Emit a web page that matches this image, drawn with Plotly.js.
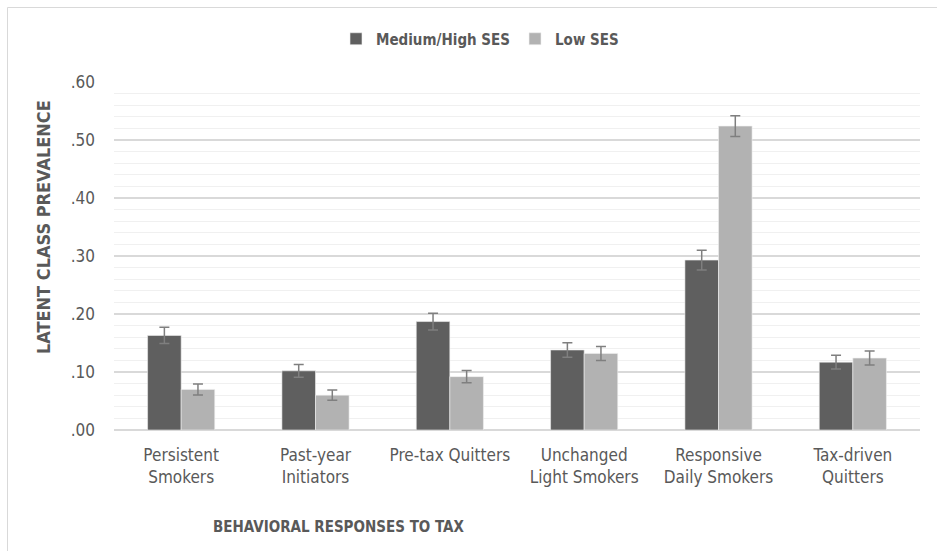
<!DOCTYPE html>
<html>
<head>
<meta charset="utf-8">
<script src="https://cdn.plot.ly/plotly-3.0.1.min.js"></script>
<style>html,body{margin:0;padding:0;background:#fff;}</style>
</head>
<body>
<div id="chart" style="width:937px;height:551px;"></div>
<script>
const categories = ["Persistent<br>Smokers", "Past-year<br>Initiators", "Pre-tax Quitters", "Unchanged<br>Light Smokers", "Responsive<br>Daily Smokers", "Tax-driven<br>Quitters"];
const medHighValues = [0.163, 0.102, 0.187, 0.138, 0.293, 0.117];
const medHighErrors = [0.014, 0.011, 0.0145, 0.0125, 0.017, 0.012];
const lowValues = [0.070, 0.060, 0.092, 0.132, 0.524, 0.124];
const lowErrors = [0.0095, 0.0088, 0.0105, 0.012, 0.018, 0.012];
const yTickVals = [0, 0.1, 0.2, 0.3, 0.4, 0.5, 0.6];
const yTickText = [".00", ".10", ".20", ".30", ".40", ".50", ".60"];

const FONT = "'DejaVu Sans Condensed', 'Open Sans', sans-serif";
const errStyle = {type: 'data', color: '#7f7f7f', thickness: 1.5, width: 5};

const traces = [
  {type: 'bar', name: 'Medium/High SES', x: categories, y: medHighValues,
   marker: {color: '#5f5f5f', line: {color: '#f0f0f0', width: 0.6}},
   error_y: Object.assign({array: medHighErrors}, errStyle)},
  {type: 'bar', name: 'Low SES', x: categories, y: lowValues,
   marker: {color: '#b2b2b2', line: {color: '#f0f0f0', width: 0.6}},
   error_y: Object.assign({array: lowErrors}, errStyle)}
];

const layout = {
  width: 937, height: 551,
  margin: {l: 114, r: 17, t: 82, b: 121, autoexpand: false},
  paper_bgcolor: '#ffffff', plot_bgcolor: '#ffffff',
  font: {family: FONT, color: '#595959', size: 16},
  barmode: 'group', bargap: 0.5, bargroupgap: 0,
  showlegend: true,
  legend: {orientation: 'h', x: (480 - 114) / 806, xanchor: 'center',
           y: (430 - 39) / 348, yanchor: 'middle',
           font: {family: FONT, size: 15, color: '#595959', weight: 'bold'},
           traceorder: 'normal'},
  xaxis: {type: 'category', showgrid: false, zeroline: false, showline: false,
          ticks: '', ticklabelstandoff: 13,
          tickfont: {family: FONT, size: 17, color: '#595959'}},
  yaxis: {range: [0, 0.6], tickvals: yTickVals, ticktext: yTickText,
          showgrid: true, gridcolor: '#d9d9d9', gridwidth: 1.4,
          zeroline: true, zerolinecolor: '#d9d9d9', zerolinewidth: 1.5,
          showline: false, ticks: '', ticklabelstandoff: 18,
          tickfont: {family: FONT, size: 17, color: '#595959'},
          minor: {dtick: 0.02, showgrid: true, gridcolor: '#f0f0f0', gridwidth: 1.3}},
  annotations: [
    {text: '<b>LATENT CLASS PREVALENCE</b>', xref: 'paper', yref: 'paper',
     x: (43 - 114) / 806, y: (430 - 227) / 348, textangle: -90, showarrow: false,
     xanchor: 'center', yanchor: 'middle', font: {family: FONT, size: 18, color: '#595959'}},
    {text: '<b>BEHAVIORAL RESPONSES TO TAX</b>', xref: 'paper', yref: 'paper',
     x: (338 - 114) / 806, y: (430 - 527) / 348, showarrow: false,
     xanchor: 'center', yanchor: 'middle', font: {family: FONT, size: 15, color: '#595959'}}
  ],
  shapes: [
    {type: 'rect', xref: 'paper', yref: 'paper',
     x0: (7.5 - 114) / 806, x1: (960 - 114) / 806,
     y0: (430 - 580) / 348, y1: (430 - 7.5) / 348,
     line: {color: '#d9d9d9', width: 1}, layer: 'below'}
  ]
};

Plotly.newPlot('chart', traces, layout, {displayModeBar: false, staticPlot: true});
</script>
</body>
</html>
